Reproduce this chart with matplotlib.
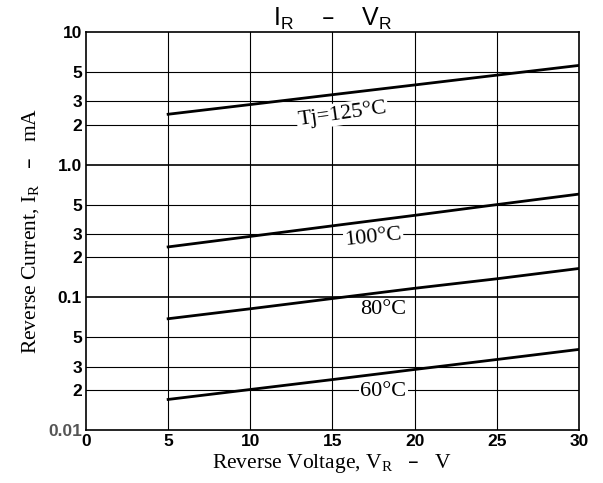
import numpy as np
import matplotlib.pyplot as plt

# reverse voltage (V) and reverse current (mA)
vr = [5, 10, 15, 20, 25, 30]
ir_125 = [2.4, 2.84, 3.37, 3.99, 4.73, 5.6]
ir_100 = [0.24, 0.288, 0.346, 0.415, 0.5, 0.6]
ir_80 = [0.069, 0.082, 0.098, 0.117, 0.138, 0.165]
ir_60 = [0.017, 0.0202, 0.024, 0.0286, 0.034, 0.0405]

curve_labels = ["Tj=125°C", "100°C", "80°C", "60°C"]
label_pos = [(15.6, 2.42), (17.5, 0.28), (18.1, 0.081), (18.1, 0.0195)]
label_rot = [8, 6, 0, 0]

y_ticks = [10, 5, 3, 2, 1.0, 0.5, 0.3, 0.2, 0.1, 0.05, 0.03, 0.02, 0.01]
y_ticklabels = ["10", "5", "3", "2", "1.0", "5", "3", "2", "0.1", "5", "3", "2", "0.01"]
x_ticks = [0, 5, 10, 15, 20, 25, 30]

serif = "Liberation Serif"
sans = "Liberation Sans"

fig = plt.figure(figsize=(6.03, 4.83), dpi=100)
ax = fig.add_axes([0.1426, 0.1097, 0.8174, 0.824])

ax.set_yscale("log")
ax.set_xlim(0, 30)
ax.set_ylim(0.01, 10)

# grid
for x in x_ticks[1:-1]:
    ax.axvline(x, color="black", lw=0.8, zorder=1)
for y in y_ticks[1:-1]:
    lw = 1.2 if y in (1.0, 0.1) else 0.8
    ax.axhline(y, color="black", lw=lw, zorder=1)

for ys in (ir_125, ir_100, ir_80, ir_60):
    ax.plot(vr, ys, color="black", lw=2.0, zorder=3)

for lab, (x, y), r in zip(curve_labels, label_pos, label_rot):
    ax.text(x, y, lab, family=serif, fontsize=16, rotation=r,
            ha="center", va="center", zorder=4,
            bbox=dict(facecolor="white", edgecolor="none", pad=1))

ax.minorticks_off()
ax.set_yticks(y_ticks)
ax.set_yticklabels(y_ticklabels, family=sans, fontweight="bold", fontsize=12.5)
ax.get_yticklabels()[-1].set_color("#555555")
ax.set_xticks(x_ticks)
ax.set_xticklabels([str(v) for v in x_ticks], family=sans, fontweight="bold", fontsize=12.5)
ax.tick_params(length=0, pad=3)

for s in ax.spines.values():
    s.set_linewidth(1.2)

ax.set_xlabel("Reverse Voltage, V$_\\mathregular{R}$   –   V", family=serif, fontsize=15.5, labelpad=2)
ax.set_ylabel("Reverse Current, I$_\\mathregular{R}$   –   mA", family=serif, fontsize=15.5, labelpad=4)
ax.set_title("I$_\\mathregular{R}$    –    V$_\\mathregular{R}$", family=sans, fontsize=18, pad=3)

fig.savefig("out.png", dpi=100)
